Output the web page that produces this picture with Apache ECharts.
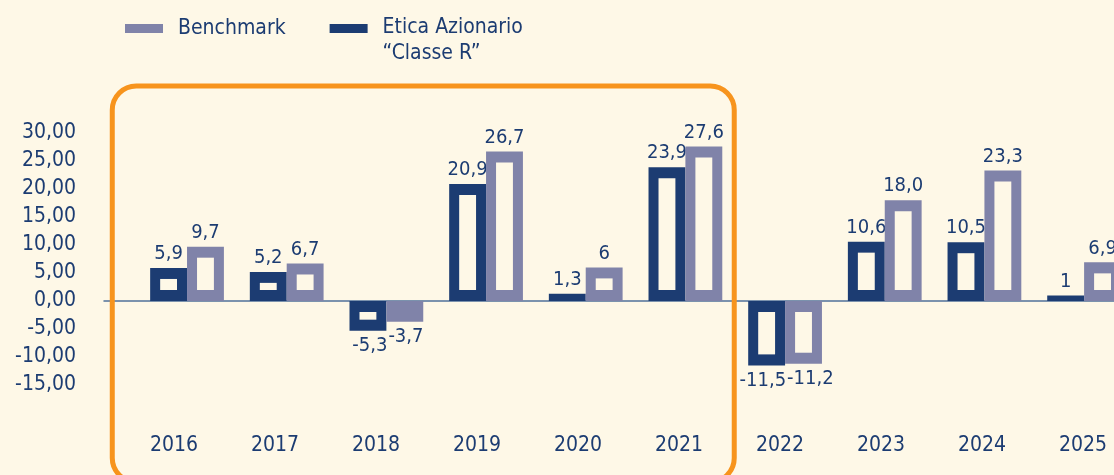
<!DOCTYPE html>
<html>
<head>
<meta charset="utf-8">
<script src="https://cdn.jsdelivr.net/npm/echarts@6/dist/echarts.min.js"></script>
<style>
  html, body { margin: 0; padding: 0; background: #fef8e7; }
  #chart { width: 1114px; height: 475px; }
</style>
</head>
<body>
<div id="chart"></div>
<script>
// dati
const years = ['2016', '2017', '2018', '2019', '2020', '2021', '2022', '2023', '2024', '2025'];
const benchmark = [9.7, 6.7, -3.7, 26.7, 6, 27.6, -11.2, 18.0, 23.3, 6.9];
const etica = [5.9, 5.2, -5.3, 20.9, 1.3, 23.9, -11.5, 10.6, 10.5, 1];
const benchmarkLabels = ['9,7', '6,7', '-3,7', '26,7', '6', '27,6', '-11,2', '18,0', '23,3', '6,9'];
const eticaLabels = ['5,9', '5,2', '-5,3', '20,9', '1,3', '23,9', '-11,5', '10,6', '10,5', '1'];
const yMin = -15;
const yMax = 30;
const yStep = 5;
const highlightFrom = 0;   // 2016
const highlightTo = 5;     // 2021

const BG = '#fef8e7';
const NAVY = '#1c3c72';
const LILAC = '#8083a9';
const ORANGE = '#f7941d';
const FONT = '"DejaVu Sans Condensed", "Liberation Sans", sans-serif';

const BAR = 0.37;   // larghezza barra in unità di categoria
const INSET_X = 10;
const INSET_Y = 11;

const chart = echarts.init(document.getElementById('chart'));

// barre "vuote": bordo spesso con interno color sfondo
function hollowBar(side, labels) {
    return function (params, api) {
        const i = api.value(0);
        const v = api.value(1);
        const a = api.coord([i + (side < 0 ? -BAR : 0), v]);
        const b = api.coord([i + (side < 0 ? 0 : BAR), 0]);
        const x = Math.min(a[0], b[0]);
        const y = Math.min(a[1], b[1]);
        const w = Math.abs(b[0] - a[0]);
        const h = Math.abs(b[1] - a[1]);
        const color = api.visual('color');
        const children = [{
            type: 'rect',
            shape: { x: x, y: y, width: w, height: h },
            style: { fill: color }
        }];
        if (h > 2 * INSET_Y + 2) {
            children.push({
                type: 'rect',
                shape: { x: x + INSET_X, y: y + INSET_Y, width: w - 2 * INSET_X, height: h - 2 * INSET_Y },
                style: { fill: BG }
            });
        }
        const up = v >= 0;
        // etichette negative spinte verso l'esterno della coppia
        let tx = x + w / 2;
        let align = 'center';
        if (!up) {
            tx = side < 0 ? x + w + 1 : x + 2;
            align = side < 0 ? 'right' : 'left';
        }
        children.push({
            type: 'text',
            x: tx,
            y: up ? y - 4 : y + h + 5,
            style: {
                text: labels[params.dataIndex],
                fill: NAVY,
                font: '20px ' + FONT,
                align: align,
                verticalAlign: up ? 'bottom' : 'top'
            }
        });
        return { type: 'group', children: children };
    };
}

const ETICA_NAME = 'Etica Azionario\n\u201CClasse R\u201D';

const option = {
    backgroundColor: BG,
    animation: false,
    legend: {
        left: 125,
        top: 3,
        padding: 0,
        icon: 'rect',
        itemWidth: 38,
        itemHeight: 9,
        itemGap: 44,
        data: ['Benchmark', ETICA_NAME],
        // prima riga allineata al simbolo, seconda sotto
        formatter: function (name) {
            if (name !== ETICA_NAME) return name;
            const parts = name.split('\n');
            return '{a|' + parts[0] + '}\n{b|' + parts[1] + '}';
        },
        textStyle: {
            color: NAVY, fontFamily: FONT, fontSize: 21, lineHeight: 25, padding: [0, 0, 0, 10],
            rich: {
                a: { color: NAVY, fontFamily: FONT, fontSize: 21, lineHeight: 50 },
                b: { color: NAVY, fontFamily: FONT, fontSize: 21, lineHeight: 1 }
            }
        }
    },
    grid: { left: 104, right: 0, top: 133, bottom: 90 },
    xAxis: [
        {
            type: 'value',
            position: 'top',
            min: -0.833,
            max: 9.3,
            axisLine: { onZero: true, lineStyle: { color: '#50709a', width: 1.5 } },
            axisTick: { show: false },
            axisLabel: { show: false },
            splitLine: { show: false }
        },
        {
            type: 'category',
            position: 'bottom',
            data: years,
            axisLine: { show: false, onZero: false },
            axisTick: { show: false },
            axisLabel: { color: NAVY, fontFamily: FONT, fontSize: 21, margin: 50, padding: [0, 0, 0, 39] }
        }
    ],
    yAxis: {
        type: 'value',
        min: yMin,
        max: yMax,
        interval: yStep,
        axisLine: { show: false },
        axisTick: { show: false },
        splitLine: { show: false },
        axisLabel: {
            color: NAVY,
            fontFamily: FONT,
            fontSize: 21,
            margin: 28,
            formatter: function (v) { return v.toFixed(2).replace('.', ','); }
        }
    },
    series: [
        {
            name: ETICA_NAME,
            type: 'custom',
            xAxisIndex: 0,
            itemStyle: { color: NAVY },
            renderItem: hollowBar(-1, eticaLabels),
            data: etica.map(function (v, i) { return [i, v]; })
        },
        {
            name: 'Benchmark',
            type: 'custom',
            xAxisIndex: 0,
            itemStyle: { color: LILAC },
            renderItem: hollowBar(1, benchmarkLabels),
            data: benchmark.map(function (v, i) { return [i, v]; })
        }
    ]
};

chart.setOption(option);

// riquadro arancione attorno agli anni 2016-2021
const boxLeft = chart.convertToPixel({ xAxisIndex: 0 }, highlightFrom - 0.75);
const boxRight = chart.convertToPixel({ xAxisIndex: 0 }, highlightTo + 0.49);
chart.setOption({
    graphic: [{
        type: 'rect',
        z: 100,
        shape: { x: boxLeft, y: 86, width: boxRight - boxLeft, height: 396, r: 24 },
        style: { fill: 'none', stroke: ORANGE, lineWidth: 5 }
    }]
});
</script>
</body>
</html>
